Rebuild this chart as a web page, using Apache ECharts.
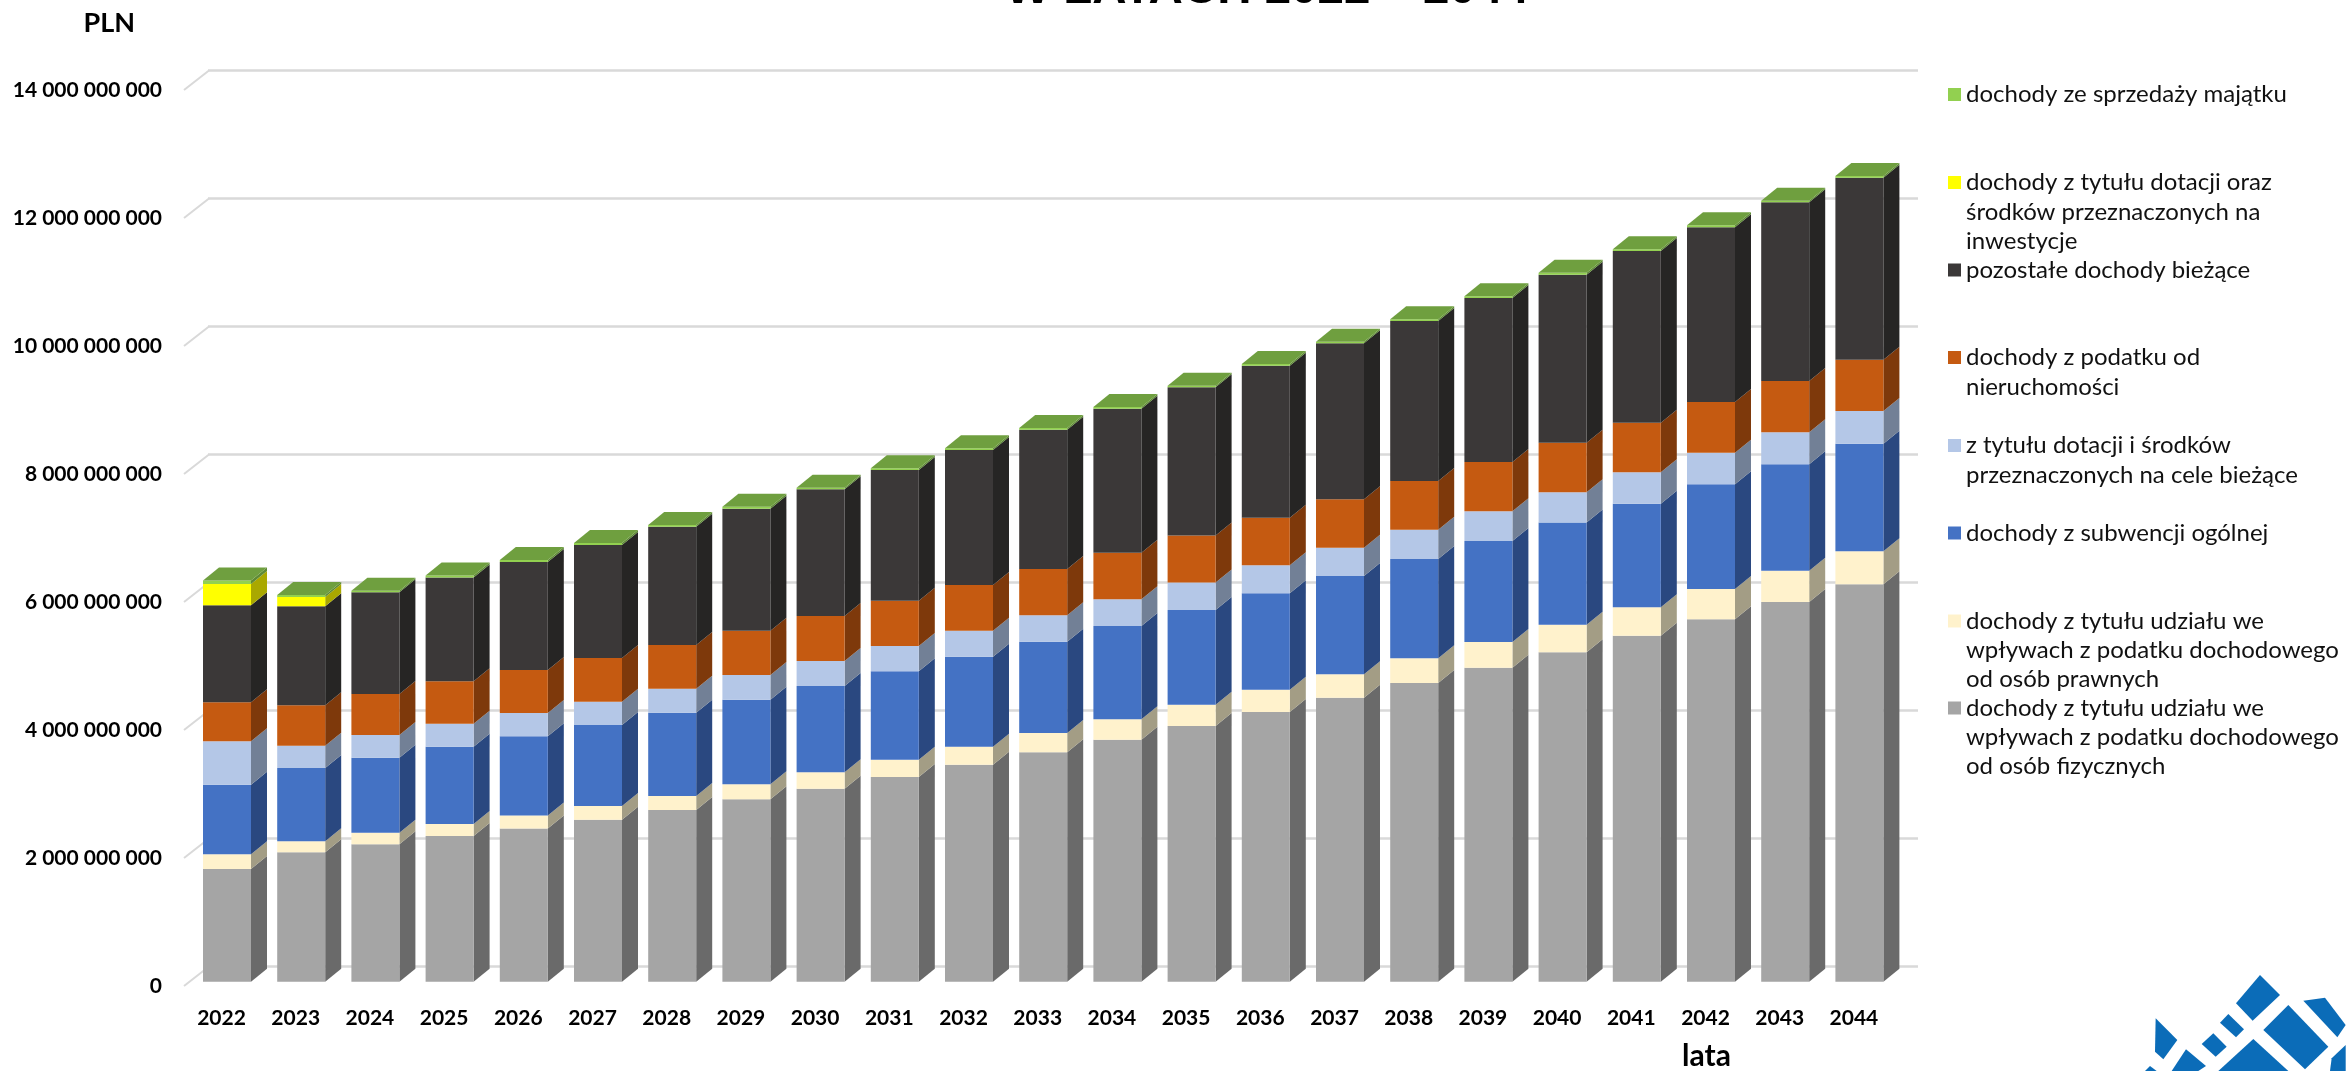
<!DOCTYPE html>
<html>
<head>
<meta charset="utf-8">
<script src="https://cdn.jsdelivr.net/npm/echarts@6/dist/echarts.min.js"></script>
<style>html,body{margin:0;padding:0;background:#fff}#chart{width:2346px;height:1071px}</style>
</head>
<body>
<div id="chart"></div>
<script>
const years = ['2022','2023','2024','2025','2026','2027','2028','2029','2030','2031','2032','2033','2034','2035','2036','2037','2038','2039','2040','2041','2042','2043','2044'];
const yTicks = [0,2e9,4e9,6e9,8e9,10e9,12e9,14e9];
// values in million PLN
const pitFizyczne = [1761,2022,2147,2277,2394,2531,2683,2850,3016,3198,3391,3584,3781,3995,4214,4438,4667,4906,5147,5406,5663,5933,6209];
const citPrawne   = [230,172,181,188,203,214,219,234,256,270,281,302,319,333,348,366,386,402,430,444,473,489,516];
const subwencja   = [1088,1145,1172,1208,1238,1266,1302,1322,1348,1381,1406,1427,1458,1480,1506,1536,1552,1578,1598,1619,1636,1663,1681];
const dotacjeBiez = [678,348,355,359,364,364,375,386,391,395,406,413,417,430,438,442,458,464,472,491,494,500,511];
const nieruchom   = [609,631,641,663,672,683,683,692,703,708,714,723,728,734,744,756,761,770,775,775,792,802,802];
const pozostale   = [1516,1547,1589,1619,1688,1766,1848,1906,1980,2042,2109,2177,2250,2316,2375,2438,2500,2563,2625,2683,2730,2792,2844];
const dotacjeInw  = [333,145,0,0,0,0,0,0,0,0,0,0,0,0,0,0,0,0,0,0,0,0,0];
const majatek     = [52,31,25,31,31,31,27,31,25,27,27,27,27,25,27,25,27,27,31,27,31,25,27];

const seriesValues = [pitFizyczne,citPrawne,subwencja,dotacjeBiez,nieruchom,pozostale,dotacjeInw,majatek];
const seriesNames = [
  'dochody z tytułu udziału we\nwpływach z podatku dochodowego\nod osób fizycznych',
  'dochody z tytułu udziału we\nwpływach z podatku dochodowego\nod osób prawnych',
  'dochody z subwencji ogólnej',
  'z tytułu dotacji i środków\nprzeznaczonych na cele bieżące',
  'dochody z podatku od\nnieruchomości',
  'pozostałe dochody bieżące',
  'dochody z tytułu dotacji oraz\nśrodków przeznaczonych na\ninwestycje',
  'dochody ze sprzedaży majątku'
];
const frontColors = ['#A5A5A5','#FFF2CC','#4472C4','#B4C7E7','#C55A11','#3B3838','#FFFF00','#92D050'];
const sideColors  = ['#6A6A6A','#A39D85','#2A4880','#728096','#7E390B','#262524','#A9A800','#5E8A35'];
const topColor = '#6F9F3F';

const BAR_RATIO = 48/74.2, DX = 16, DY = 13;
const LEG_LINE = 29.3, LEG_X = 1948;
const legendCenters = [708,621,533,445.5,357.5,270,182.5,94.5];

function stackData(k){
  return years.map((y,i)=>{
    let lo=0; for(let s=0;s<k;s++) lo+=seriesValues[s][i];
    return [i, lo*1e6, (lo+seriesValues[k][i])*1e6];
  });
}
function barRenderer(k){
  return function(params,api){
    const lo=api.value(1), hi=api.value(2);
    if(hi<=lo) return null;
    const c=api.coord([api.value(0),lo]), t=api.coord([api.value(0),hi]);
    const w=api.size([1,0])[0]*BAR_RATIO;
    const xl=c[0]-w/2, xr=c[0]+w/2, yb=c[1], yt=t[1];
    const kids=[
      {type:'polygon',shape:{points:[[xr,yb],[xr+DX,yb-DY],[xr+DX,yt-DY],[xr,yt]]},style:{fill:sideColors[k]}},
      {type:'rect',shape:{x:xl,y:yt,width:w,height:yb-yt},style:{fill:frontColors[k]}}
    ];
    if(k===seriesValues.length-1){
      kids.push({type:'polygon',shape:{points:[[xl,yt],[xl+DX,yt-DY],[xr+DX,yt-DY],[xr,yt]]},style:{fill:topColor}});
    }
    return {type:'group',children:kids};
  };
}
const barSeries = seriesNames.map((n,k)=>({
  name:n,type:'custom',xAxisIndex:1,yAxisIndex:1,
  itemStyle:{color:frontColors[k]},
  encode:{x:0,y:[1,2]},
  data:stackData(k),
  renderItem:barRenderer(k),
  silent:true
}));
const tickSeries = {
  type:'custom',xAxisIndex:2,yAxisIndex:2,silent:true,
  data:yTicks.map(v=>[0,v]),
  encode:{x:0,y:1},
  renderItem(params,api){
    const p=api.coord([0,api.value(1)]), q=api.coord([1,api.value(1)]);
    return {type:'line',shape:{x1:p[0],y1:p[1],x2:q[0],y2:q[1]-19.5},style:{stroke:'#d9d9d9',lineWidth:2}};
  }
};
const legends = seriesNames.map((n,k)=>{
  const lines=n.split('\n').length;
  return {
    left:LEG_X, top:legendCenters[k]-(2*lines-1)*LEG_LINE/2, padding:0, orient:'vertical',
    selectedMode:false, itemWidth:13, itemHeight:13,
    data:[{name:n,icon:'rect',itemStyle:{color:frontColors[k]}}],
    // leading blank lines keep the marker level with the first line of the text
    formatter:v=>'\n'.repeat(lines-1)+v,
    textStyle:{fontFamily:'Lato',fontSize:24,color:'#111',lineHeight:LEG_LINE}
  };
});
const logoPieces = [
  [[930,75],[990,135],[908,212],[858,160]],
  [[1015,165],[1135,290],[1065,358],[940,240]],
  [[1060,152],[1125,143],[1187,225],[1162,262]],
  [[835,192],[882,238],[858,262],[810,218]],
  [[790,250],[830,290],[797,320],[755,282]],
  [[617,205],[682,270],[640,328],[615,305]],
  [[708,298],[768,348],[745,363],[665,363]],
  [[910,267],[1015,363],[805,363]],
  [[1187,285],[1187,363],[1140,363],[1145,325]],
  [[600,348],[620,363],[585,363]]
];
const logoGraphic = logoPieces.map(p=>({
  type:'polygon',silent:true,
  shape:{points:p.map(a=>[1950+a[0]/3,950+a[1]/3])},
  style:{fill:'#0B6CB8'}
}));
const tickFont={fontFamily:'Lato',fontWeight:'bold',fontSize:21,color:'#000'};
const option={
  animation:false,
  backgroundColor:'#fff',
  title:{text:'W LATACH 2022 – 2044',left:1267,textAlign:'center',top:-34,padding:0,
    textStyle:{fontFamily:'Liberation Sans',fontWeight:'bold',fontSize:47.5,color:'#000'}},
  legend:legends,
  grid:[
    {left:208,width:1710,top:70.5,height:896,outerBoundsMode:'none'},
    {left:189.9,width:1706.6,top:85.7,height:896,outerBoundsMode:'none'},
    {left:184,width:25,top:90,height:896,outerBoundsMode:'none'}
  ],
  xAxis:[
    {gridIndex:0,type:'category',data:years,show:false},
    {gridIndex:1,type:'category',data:years,axisLine:{show:false},axisTick:{show:false},
      axisLabel:Object.assign({interval:0,margin:26,padding:[0,11,0,0]},tickFont),
      name:'lata',nameLocation:'end',nameGap:-190,
      nameTextStyle:Object.assign({},tickFont,{fontSize:30,align:'center',verticalAlign:'top',padding:[60,0,0,0]})},
    {gridIndex:2,type:'value',min:0,max:1,show:false}
  ],
  yAxis:[
    {gridIndex:0,type:'value',min:0,max:14e9,interval:2e9,axisLabel:{show:false},axisLine:{show:false},axisTick:{show:false},
      splitLine:{show:true,lineStyle:{color:'#d9d9d9',width:2.5}}},
    {gridIndex:1,type:'value',min:0,max:14e9,interval:2e9,show:false,splitLine:{show:false}},
    {gridIndex:2,type:'value',min:0,max:14e9,interval:2e9,axisLine:{show:false},axisTick:{show:false},splitLine:{show:false},
      axisLabel:Object.assign({margin:22,formatter:v=>String(v).replace(/\B(?=(\d{3})+(?!\d))/g,' ')},tickFont),
      name:'PLN',nameLocation:'end',nameGap:67,
      nameTextStyle:Object.assign({},tickFont,{fontSize:27,align:'right',verticalAlign:'middle',padding:[0,49,0,0]})}
  ],
  graphic:logoGraphic,
  series:[tickSeries].concat(barSeries)
};
const chart=echarts.init(document.getElementById('chart'),null,{renderer:'canvas'});
chart.setOption(option);
</script>
</body>
</html>
